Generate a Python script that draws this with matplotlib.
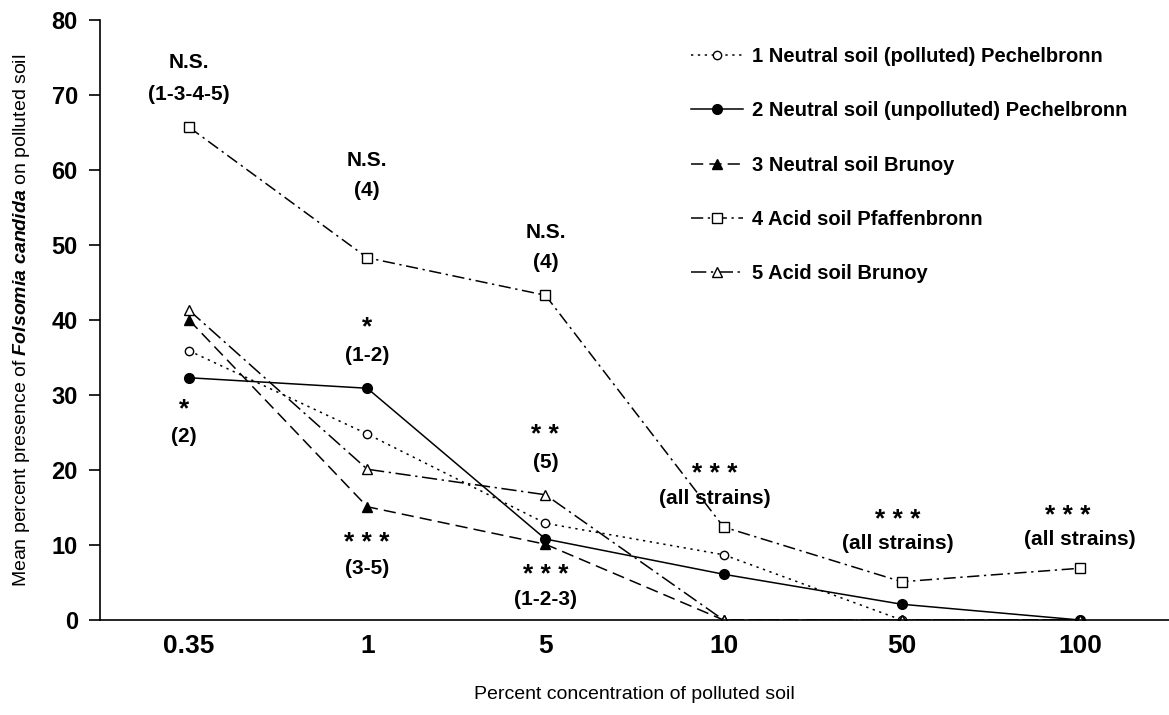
import numpy as np
import matplotlib
matplotlib.use('Agg')
import matplotlib.pyplot as plt

plt.rcParams['font.family'] = 'Liberation Sans'
plt.rcParams['font.weight'] = 'bold'
plt.rcParams['mathtext.fontset'] = 'custom'
plt.rcParams['mathtext.it'] = 'Liberation Sans:italic'
plt.rcParams['mathtext.rm'] = 'Liberation Sans'

# ---- data ----
concentrations = ['0.35', '1', '5', '10', '50', '100']
s1_neutral_polluted = [35.9, 24.8, 12.9, 8.7, 0, 0]
s2_neutral_unpolluted = [32.3, 30.9, 10.8, 6.1, 2.1, 0]
s3_neutral_brunoy = [40.0, 15.1, 10.1, 0, 0, 0]
s4_acid_pfaffenbronn = [65.7, 48.3, 43.3, 12.4, 5.1, 6.9]
s5_acid_brunoy = [41.3, 20.1, 16.7, 0, 0, 0]
labels = ['1 Neutral soil (polluted) Pechelbronn',
          '2 Neutral soil (unpolluted) Pechelbronn',
          '3 Neutral soil Brunoy',
          '4 Acid soil Pfaffenbronn',
          '5 Acid soil Brunoy']

# significance notes: (category index, value, text)
notes = [(0, 74.4, 'N.S.'), (0, 70.0, '(1-3-4-5)'),
         (1, 61.3, 'N.S.'), (1, 57.2, '(4)'),
         (2, 51.6, 'N.S.'), (2, 47.7, '(4)'),
         (1, 35.3, '(1-2)'), (-0.03, 24.4, '(2)'), (2, 21.0, '(5)'),
         (1, 6.9, '(3-5)'), (2, 2.7, '(1-2-3)'),
         (2.95, 16.2, '(all strains)'), (3.98, 10.2, '(all strains)'),
         (5.0, 10.7, '(all strains)')]
stars = [(1, 39.3, '*'), (-0.03, 28.4, '*'), (2, 25.0, '* *'),
         (1, 10.6, '* * *'), (2, 6.4, '* * *'), (2.95, 19.8, '* * *'),
         (3.98, 13.7, '* * *'), (4.93, 14.2, '* * *')]

x = np.arange(len(concentrations))

fig = plt.figure(figsize=(11.69, 7.15), dpi=100)
ax = fig.add_axes([100/1169, 1-620/715, 1-100/1169, (620-20)/715])

ax.plot(x, s1_neutral_polluted, linestyle=(0, (1.5, 3)), color='black', lw=1.1,
        marker='o', mfc='white', mec='black', ms=6, label=labels[0])
ax.plot(x, s2_neutral_unpolluted, linestyle='-', color='black', lw=1.1,
        marker='o', mfc='black', mec='black', ms=7, label=labels[1])
ax.plot(x, s3_neutral_brunoy, linestyle=(0, (8, 4)), color='black', lw=1.1,
        marker='^', mfc='black', mec='black', ms=7, label=labels[2])
ax.plot(x, s4_acid_pfaffenbronn, linestyle=(0, (8, 3, 1.5, 3)), color='black', lw=1.1,
        marker='s', mfc='white', mec='black', ms=7, label=labels[3])
ax.plot(x, s5_acid_brunoy, linestyle=(0, (10, 3, 1.5, 3)), color='black', lw=1.1,
        marker='^', mfc='white', mec='black', ms=7, label=labels[4])

for xi, yi, t in notes:
    ax.text(xi, yi, t, ha='center', va='center', fontsize=15, fontweight='bold')
for xi, yi, t in stars:
    ax.text(xi, yi, t, ha='center', va='center_baseline', fontsize=19, fontweight='bold')

ax.set_xlim(-0.5, 5.5)
ax.set_ylim(0, 80)
ax.set_xticks(x)
ax.set_xticklabels(concentrations)
ax.set_yticks(np.arange(0, 81, 10))
ax.tick_params(axis='x', length=0, pad=10, labelsize=19)
ax.tick_params(axis='y', length=8, width=1.2, direction='out', pad=8, labelsize=17)
for lab in ax.get_xticklabels() + ax.get_yticklabels():
    lab.set_fontweight('bold')
ax.spines['top'].set_visible(False)
ax.spines['right'].set_visible(False)
ax.spines['left'].set_linewidth(1.2)
ax.spines['bottom'].set_linewidth(1.2)

ax.set_xlabel('Percent concentration of polluted soil', fontsize=14,
              fontweight='normal', labelpad=20)
ax.set_ylabel(r'Mean percent presence of $\it{Folsomia\ candida}$ on polluted soil',
              fontsize=14, fontweight='normal', labelpad=14)

leg = ax.legend(loc='upper left', bbox_to_anchor=(0.536, 0.985), frameon=False,
                handlelength=2.6, handletextpad=0.4, labelspacing=1.75,
                prop={'weight': 'bold', 'size': 14.5})

fig.savefig('out.png', dpi=100)
